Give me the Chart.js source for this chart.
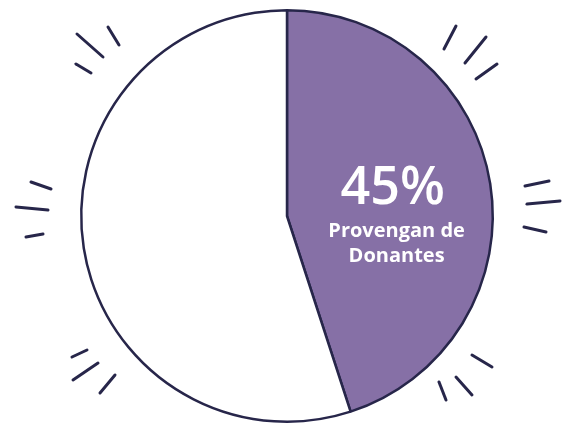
<!DOCTYPE html>
<html>
<head>
<meta charset="utf-8">
<script src="https://cdn.jsdelivr.net/npm/chart.js@4.4.1/dist/chart.umd.min.js"></script>
<style>
    html, body { margin: 0; padding: 0; background: #ffffff; }
    #wrap { width: 579px; height: 431px; }
</style>
</head>
<body>
<div id="wrap"><canvas id="pieChart" width="579" height="431"></canvas></div>
<script>
// data
const labels = ['Provengan de Donantes', 'Otros'];
const values = [45, 55];
const sliceColors = ['#8670a6', '#ffffff'];

const inkColor = '#27264a';

// little hand-drawn strokes round the pie (offsets from the pie centre)
const sparks = [
    [-210, -182, -184, -159], [-179, -189, -168, -171], [-211, -152, -196, -143],
    [169, -190, 157, -167], [199, -179, 178, -153], [210, -152, 189, -137],
    [-256, -34, -236, -27], [-271, -9, -239, -6], [-261, 21, -244, 18],
    [238, -30, 262, -35], [240, -12, 273, -15], [237, 11, 259, 16],
    [-215, 141, -200, 134], [-214, 164, -189, 147], [-187, 177, -172, 159],
    [185, 139, 205, 151], [169, 161, 185, 179], [152, 166, 159, 184]
];

const sparkPlugin = {
    id: 'sparks',
    afterDraw(chart) {
        const arc = chart.getDatasetMeta(0).data[0];
        const ctx = chart.ctx;
        ctx.save();
        ctx.strokeStyle = inkColor;
        ctx.lineWidth = 3;
        ctx.lineCap = 'round';
        sparks.forEach(s => {
            ctx.beginPath();
            ctx.moveTo(arc.x + s[0], arc.y + s[1]);
            ctx.lineTo(arc.x + s[2], arc.y + s[3]);
            ctx.stroke();
        });
        ctx.restore();
    }
};

const labelPlugin = {
    id: 'sliceLabel',
    afterDatasetsDraw(chart) {
        const arc = chart.getDatasetMeta(0).data[0];
        const pos = arc.tooltipPosition();
        const ctx = chart.ctx;
        const x = pos.x + 4;
        const y = pos.y;
        ctx.save();
        ctx.fillStyle = '#ffffff';
        ctx.textAlign = 'center';
        ctx.textBaseline = 'alphabetic';
        ctx.font = '600 52px "Open Sans"';
        ctx.fillText(values[0] + '%', x, y + 4);
        ctx.font = 'bold 20px "Open Sans"';
        ctx.fillText('Provengan de', x + 4, y + 37);
        ctx.fillText('Donantes', x + 4, y + 62);
        ctx.restore();
    }
};

new Chart(document.getElementById('pieChart'), {
    type: 'pie',
    data: {
        labels: labels,
        datasets: [{
            data: values,
            backgroundColor: sliceColors,
            borderColor: inkColor,
            borderWidth: 2.5,
            hoverOffset: 0
        }]
    },
    options: {
        responsive: false,
        maintainAspectRatio: false,
        animation: false,
        layout: {
            padding: { top: 9, bottom: 8, left: 0, right: 5 }
        },
        plugins: {
            legend: { display: false },
            tooltip: { enabled: false }
        }
    },
    plugins: [labelPlugin, sparkPlugin]
});
</script>
</body>
</html>
